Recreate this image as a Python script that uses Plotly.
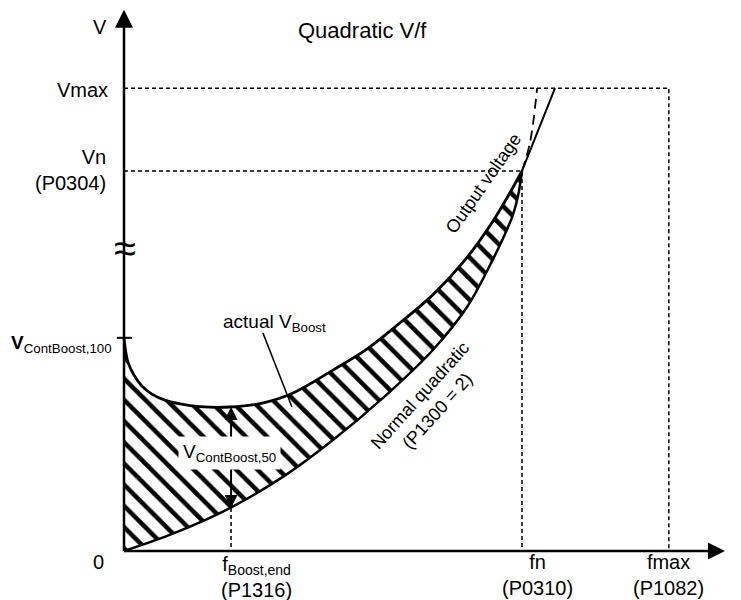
import plotly.graph_objects as go

# frequency in % of fn, voltage in % of Vn
f_low = [0, 12.6, 26.6, 40.2, 52.5, 65.3, 77.6, 86.2, 92.0, 95.5, 97.7, 99.0, 100]
v_low = [0, 4.7, 11.3, 19.7, 29.2, 40.5, 52.9, 64.2, 75.3, 82.9, 88.4, 93.4, 100]

f_up = [0, 0.3, 1.0, 2.5, 4.5, 7.0, 10.3, 14.1, 19.1, 26.6, 34.2, 42.5, 52.5, 61.1, 69.3, 77.6, 85.7, 92.7, 96.5, 100]
v_up = [56.1, 53.4, 49.7, 46.3, 43.4, 41.3, 39.7, 38.7, 38.0, 37.9, 38.8, 41.6, 47.6, 53.2, 60.0, 67.4, 76.6, 86.8, 93.4, 100]

f_ext = [100, 108.3]
v_ext = [100, 121.8]
f_quad = [100, 102.0, 103.8]
v_quad = [100, 107.4, 121.8]

fn = 100
vn = 100
fmax = 136.9
vmax = 121.8
f_boost = 26.9
v_boost_low = 11.3
v_boost_up = 37.9
v_cb100 = 56.1
v_break = 79.7

FONT = "Liberation Sans, Arial, sans-serif"
dash_small = "4px,3px"

fig = go.Figure()

# hatched boost area
fig.add_trace(go.Scatter(x=f_low, y=v_low, mode="lines", line=dict(width=0, shape="spline"),
                         hoverinfo="skip"))
fig.add_trace(go.Scatter(x=f_up, y=v_up, mode="lines", line=dict(width=0, shape="spline"),
                         fill="tonexty", fillcolor="white",
                         fillpattern=dict(shape="\\", size=15, solidity=0.3, fgopacity=1,
                                          fgcolor="black", bgcolor="white"),
                         hoverinfo="skip"))

# dashed guides
fig.add_trace(go.Scatter(x=[0, fmax, fmax], y=[vmax, vmax, 0], mode="lines",
                         line=dict(color="black", width=1.5, dash=dash_small)))
fig.add_trace(go.Scatter(x=[0, fn, fn], y=[vn, vn, 0], mode="lines",
                         line=dict(color="black", width=1.5, dash=dash_small)))
fig.add_trace(go.Scatter(x=[f_boost, f_boost], y=[v_boost_low, 0], mode="lines",
                         line=dict(color="black", width=1.5, dash=dash_small)))

# curves
fig.add_trace(go.Scatter(x=f_low, y=v_low, mode="lines",
                         line=dict(color="black", width=2.5, shape="spline")))
fig.add_trace(go.Scatter(x=f_up, y=v_up, mode="lines",
                         line=dict(color="black", width=2.8, shape="spline")))
fig.add_trace(go.Scatter(x=f_ext, y=v_ext, mode="lines",
                         line=dict(color="black", width=2)))
fig.add_trace(go.Scatter(x=f_quad, y=v_quad, mode="lines",
                         line=dict(color="black", width=1.8, dash="10px,6px", shape="spline")))

# V_ContBoost,50 double arrow
fig.add_trace(go.Scatter(x=[f_boost, f_boost], y=[v_boost_low + 2, v_boost_up - 2], mode="lines",
                         line=dict(color="black", width=2)))
fig.add_trace(go.Scatter(x=[f_boost, f_boost], y=[v_boost_up, v_boost_low], mode="markers",
                         marker=dict(symbol=["arrow-up", "arrow-down"], size=13, color="black",
                                     line=dict(width=0))))

# axes
fig.add_trace(go.Scatter(x=[0, 0], y=[0, 138], mode="lines", line=dict(color="black", width=2.5)))
fig.add_trace(go.Scatter(x=[0, 147], y=[0, 0], mode="lines", line=dict(color="black", width=2.5)))
fig.add_trace(go.Scatter(x=[0], y=[142.4], mode="markers",
                         marker=dict(symbol="arrow-up", size=18, color="black", line=dict(width=0))))
fig.add_trace(go.Scatter(x=[151.0], y=[0], mode="markers",
                         marker=dict(symbol="arrow-right", size=17, color="black", line=dict(width=0))))
# tick for V_ContBoost,100
fig.add_trace(go.Scatter(x=[-1.8, 2.0], y=[v_cb100, v_cb100], mode="lines",
                         line=dict(color="black", width=2)))

# leader line to actual V_Boost
fig.add_shape(type="line", x0=34.9, y0=57.4, x1=42.2, y1=37.9, line=dict(color="black", width=1.5))

ann = []


def label(text, x, y, size=20, **kw):
    d = dict(text=text, x=x, y=y, xref="x", yref="y", showarrow=False,
             font=dict(family=FONT, size=size, color="black"))
    d.update(kw)
    ann.append(d)


label("Quadratic V/f", 59.8, 137.1, size=22)
label("V", -6.0, 137.9)
label("Vmax", -3.5, 121.3, xanchor="right")
label("Vn<br>(P0304)", -4.0, 100.3, xanchor="right", align="right")
label("<b>V</b><sub>ContBoost,100</sub>", -2.5, 54.5, xanchor="right", size=19)
label("≈", 0.3, v_break, size=40)
label("0", -6.5, -2.9)
label("actual V<sub>Boost</sub>", 37.7, 60.0, size=19)
label("V<sub>ContBoost,50</sub>", 26.4, 25.8, size=19, bgcolor="white", borderpad=4)
label("Output voltage", 90.4, 96.8, size=18, textangle=-55)
label("Normal quadratic<br>(P1300 = 2)", 76.4, 38.9, size=18, textangle=-48)
label("f<sub>Boost,end</sub><br>(P1316)", 33.4, -6.8)
label("fn<br>(P0310)", 104.0, -6.3)
label("fmax<br>(P1082)", 136.7, -6.3)
label("f", 154.3, -2.4)

# page has an 8px body margin, so the figure is 8px smaller on each axis
fig.update_layout(
    width=733, height=592,
    margin=dict(l=0, r=0, t=0, b=0),
    paper_bgcolor="white", plot_bgcolor="white",
    showlegend=False,
    xaxis=dict(range=[-29.146, 155.03], visible=False, fixedrange=True),
    yaxis=dict(range=[-12.89, 142.89], visible=False, fixedrange=True),
    annotations=ann,
)

fig.write_html("out.html")
